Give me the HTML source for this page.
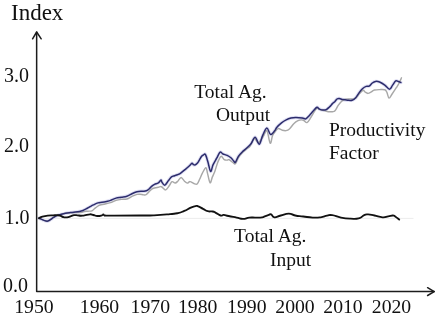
<!DOCTYPE html>
<html><head><meta charset="utf-8"><style>
html,body{margin:0;padding:0;background:#fff;}
svg{display:block;}
text{font-family:"Liberation Serif",serif;fill:#111;}
svg{will-change:transform;}
</style></head><body>
<svg width="438" height="317" viewBox="0 0 438 317">
<rect width="438" height="317" fill="#fff"/>
<line x1="36.5" y1="218.4" x2="413.5" y2="218.4" stroke="#ececec" stroke-width="1"/>
<g fill="none" stroke-linejoin="round" stroke-linecap="round">
<path d="M39.00,218.20 C40.37,218.70 44.85,221.28 47.20,221.20 C49.55,221.12 51.58,218.58 53.10,217.70 C54.62,216.82 55.32,216.37 56.30,215.90 C57.28,215.43 57.47,215.33 59.00,214.90 C60.53,214.47 63.63,213.68 65.50,213.30 C67.37,212.92 68.78,212.78 70.20,212.60 C71.62,212.42 72.45,212.38 74.00,212.20 C75.55,212.02 78.00,211.78 79.50,211.50 C81.00,211.22 81.83,210.97 83.00,210.50 C84.17,210.03 85.33,209.33 86.50,208.70 C87.67,208.07 88.85,207.33 90.00,206.70 C91.15,206.07 92.07,205.53 93.40,204.90 C94.73,204.27 96.57,203.33 98.00,202.90 C99.43,202.47 100.58,202.55 102.00,202.30 C103.42,202.05 105.08,201.72 106.50,201.40 C107.92,201.08 108.92,200.95 110.50,200.40 C112.08,199.85 114.18,198.63 116.00,198.10 C117.82,197.57 119.58,197.52 121.40,197.20 C123.22,196.88 125.07,196.82 126.90,196.20 C128.73,195.58 130.72,194.25 132.40,193.50 C134.08,192.75 135.48,192.08 137.00,191.70 C138.52,191.32 140.38,191.27 141.50,191.20 C142.62,191.13 142.88,191.37 143.70,191.30 C144.52,191.23 145.50,191.18 146.40,190.80 C147.30,190.42 148.18,189.77 149.10,189.00 C150.02,188.23 150.98,186.97 151.90,186.20 C152.82,185.43 153.53,184.95 154.60,184.40 C155.67,183.85 157.23,183.62 158.30,182.90 C159.37,182.18 160.40,180.23 161.00,180.10 C161.60,179.97 161.28,181.23 161.90,182.10 C162.52,182.97 163.63,185.52 164.70,185.30 C165.77,185.08 167.17,182.22 168.30,180.80 C169.43,179.38 170.43,177.65 171.50,176.80 C172.57,175.95 173.55,176.10 174.70,175.70 C175.85,175.30 177.40,174.83 178.40,174.40 C179.40,173.97 179.53,173.95 180.70,173.10 C181.87,172.25 183.98,170.48 185.40,169.30 C186.82,168.12 188.10,167.02 189.20,166.00 C190.30,164.98 191.30,163.43 192.00,163.20 C192.70,162.97 192.85,164.33 193.40,164.60 C193.95,164.87 194.58,165.12 195.30,164.80 C196.02,164.48 197.03,163.48 197.70,162.70 C198.37,161.92 198.65,161.17 199.30,160.10 C199.95,159.03 200.90,157.17 201.60,156.30 C202.30,155.43 202.87,155.20 203.50,154.90 C204.13,154.60 204.68,153.40 205.40,154.50 C206.12,155.60 206.93,158.68 207.80,161.50 C208.67,164.32 209.73,170.83 210.60,171.40 C211.47,171.97 211.98,167.10 213.00,164.90 C214.02,162.70 215.52,160.33 216.70,158.20 C217.88,156.07 219.07,152.80 220.10,152.10 C221.13,151.40 221.72,153.45 222.90,154.00 C224.08,154.55 225.87,154.77 227.20,155.40 C228.53,156.03 229.80,156.85 230.90,157.80 C232.00,158.75 233.05,160.35 233.80,161.10 C234.55,161.85 234.63,163.10 235.40,162.30 C236.17,161.50 237.30,157.98 238.40,156.30 C239.50,154.62 240.60,153.58 242.00,152.20 C243.40,150.82 245.30,149.40 246.80,148.00 C248.30,146.60 249.62,145.58 251.00,143.80 C252.38,142.02 253.72,137.23 255.10,137.30 C256.48,137.37 258.03,144.52 259.30,144.20 C260.57,143.88 261.43,138.08 262.70,135.40 C263.97,132.72 265.60,128.27 266.90,128.10 C268.20,127.93 269.20,133.95 270.50,134.40 C271.80,134.85 273.67,131.97 274.70,130.80 C275.73,129.63 275.57,128.73 276.70,127.40 C277.83,126.07 279.92,124.07 281.50,122.80 C283.08,121.53 284.63,120.58 286.20,119.80 C287.77,119.02 289.32,118.48 290.90,118.10 C292.48,117.72 293.80,117.52 295.70,117.50 C297.60,117.48 300.60,117.78 302.30,118.00 C304.00,118.22 304.68,119.25 305.90,118.80 C307.12,118.35 308.38,116.58 309.60,115.30 C310.82,114.02 311.98,112.43 313.20,111.10 C314.42,109.77 315.85,107.63 316.90,107.30 C317.95,106.97 318.47,108.63 319.50,109.10 C320.53,109.57 321.97,110.02 323.10,110.10 C324.23,110.18 325.25,110.12 326.30,109.60 C327.35,109.08 328.37,108.00 329.40,107.00 C330.43,106.00 331.57,104.53 332.50,103.60 C333.43,102.67 334.25,102.17 335.00,101.40 C335.75,100.63 336.28,99.50 337.00,99.00 C337.72,98.50 338.33,98.30 339.30,98.40 C340.27,98.50 341.43,99.30 342.80,99.60 C344.17,99.90 345.93,100.10 347.50,100.20 C349.07,100.30 350.83,100.60 352.20,100.20 C353.57,99.80 354.53,99.07 355.70,97.80 C356.87,96.53 358.03,94.15 359.20,92.60 C360.37,91.05 361.53,89.53 362.70,88.50 C363.87,87.47 365.12,86.80 366.20,86.40 C367.28,86.00 368.18,86.67 369.20,86.10 C370.22,85.53 371.25,83.78 372.30,83.00 C373.35,82.22 374.28,81.57 375.50,81.40 C376.72,81.23 378.05,81.38 379.60,82.00 C381.15,82.62 383.15,83.88 384.80,85.10 C386.45,86.32 388.20,89.30 389.50,89.30 C390.80,89.30 391.57,86.50 392.60,85.10 C393.63,83.70 394.75,81.50 395.70,80.90 C396.65,80.30 397.43,81.23 398.30,81.50 C399.17,81.77 400.47,82.33 400.90,82.50" stroke="#e0e0f4" stroke-width="3.4"/>
<path d="M39.00,218.20 C40.37,218.70 44.85,221.28 47.20,221.20 C49.55,221.12 51.58,218.58 53.10,217.70 C54.62,216.82 55.32,216.37 56.30,215.90 C57.28,215.43 57.47,215.33 59.00,214.90 C60.53,214.47 63.63,213.67 65.50,213.30 C67.37,212.93 68.78,212.83 70.20,212.70 C71.62,212.57 72.22,212.52 74.00,212.50 C75.78,212.48 79.17,212.77 80.90,212.60 C82.63,212.43 83.23,211.73 84.40,211.50 C85.57,211.27 86.63,211.32 87.90,211.20 C89.17,211.08 90.85,211.27 92.00,210.80 C93.15,210.33 93.80,209.20 94.80,208.40 C95.80,207.60 97.12,206.57 98.00,206.00 C98.88,205.43 98.93,205.33 100.10,205.00 C101.27,204.67 103.27,204.40 105.00,204.00 C106.73,203.60 108.67,203.20 110.50,202.60 C112.33,202.00 114.18,200.93 116.00,200.40 C117.82,199.87 119.58,199.63 121.40,199.40 C123.22,199.17 125.07,199.53 126.90,199.00 C128.73,198.47 130.72,196.97 132.40,196.20 C134.08,195.43 135.73,194.73 137.00,194.40 C138.27,194.07 138.88,194.12 140.00,194.20 C141.12,194.28 142.63,194.85 143.70,194.90 C144.77,194.95 145.35,195.18 146.40,194.50 C147.45,193.82 148.93,191.80 150.00,190.80 C151.07,189.80 151.42,189.10 152.80,188.50 C154.18,187.90 156.85,187.50 158.30,187.20 C159.75,186.90 160.28,186.25 161.50,186.70 C162.72,187.15 164.32,190.05 165.60,189.90 C166.88,189.75 168.13,187.17 169.20,185.80 C170.27,184.43 171.00,182.17 172.00,181.70 C173.00,181.23 174.23,183.08 175.20,183.00 C176.17,182.92 176.82,182.13 177.80,181.20 C178.78,180.27 179.98,177.40 181.10,177.40 C182.22,177.40 183.47,180.25 184.50,181.20 C185.53,182.15 186.37,183.03 187.30,183.10 C188.23,183.17 189.00,181.53 190.10,181.60 C191.20,181.67 192.72,183.10 193.90,183.50 C195.08,183.90 196.25,184.70 197.20,184.00 C198.15,183.30 198.73,181.12 199.60,179.30 C200.47,177.48 201.35,175.03 202.40,173.10 C203.45,171.17 205.03,167.62 205.90,167.70 C206.77,167.78 206.90,171.08 207.60,173.60 C208.30,176.12 209.30,182.25 210.10,182.80 C210.90,183.35 211.62,178.78 212.40,176.90 C213.18,175.02 213.92,173.90 214.80,171.50 C215.68,169.10 216.67,165.03 217.70,162.50 C218.73,159.97 219.90,156.77 221.00,156.30 C222.10,155.83 223.27,159.07 224.30,159.70 C225.33,160.33 226.42,160.10 227.20,160.10 C227.98,160.10 228.07,159.30 229.00,159.70 C229.93,160.10 231.73,161.82 232.80,162.50 C233.87,163.18 234.47,164.63 235.40,163.80 C236.33,162.97 237.30,159.30 238.40,157.50 C239.50,155.70 240.60,154.48 242.00,153.00 C243.40,151.52 245.50,149.67 246.80,148.60 C248.10,147.53 248.57,148.27 249.80,146.60 C251.03,144.93 252.77,139.27 254.20,138.60 C255.63,137.93 256.90,142.95 258.40,142.60 C259.90,142.25 261.78,138.47 263.20,136.50 C264.62,134.53 265.73,129.67 266.90,130.80 C268.07,131.93 269.25,142.53 270.20,143.30 C271.15,144.07 271.72,137.45 272.60,135.40 C273.48,133.35 274.55,132.13 275.50,131.00 C276.45,129.87 277.17,128.73 278.30,128.60 C279.43,128.47 281.02,129.87 282.30,130.20 C283.58,130.53 284.82,130.80 286.00,130.60 C287.18,130.40 288.07,130.20 289.40,129.00 C290.73,127.80 292.57,124.78 294.00,123.40 C295.43,122.02 296.75,121.28 298.00,120.70 C299.25,120.12 300.52,119.93 301.50,119.90 C302.48,119.87 302.98,120.05 303.90,120.50 C304.82,120.95 305.88,123.03 307.00,122.60 C308.12,122.17 309.38,119.72 310.60,117.90 C311.82,116.08 313.25,113.32 314.30,111.70 C315.35,110.08 315.95,108.55 316.90,108.20 C317.85,107.85 318.78,109.20 320.00,109.60 C321.22,110.00 322.82,110.25 324.20,110.60 C325.58,110.95 326.92,111.52 328.30,111.70 C329.68,111.88 331.38,111.85 332.50,111.70 C333.62,111.55 334.05,111.85 335.00,110.80 C335.95,109.75 337.08,106.98 338.20,105.40 C339.32,103.82 340.53,102.33 341.70,101.30 C342.87,100.27 343.85,99.60 345.20,99.20 C346.55,98.80 348.45,98.93 349.80,98.90 C351.15,98.87 352.18,99.23 353.30,99.00 C354.42,98.77 355.47,98.42 356.50,97.50 C357.53,96.58 358.38,94.72 359.50,93.50 C360.62,92.28 362.28,90.45 363.20,90.20 C364.12,89.95 364.18,91.47 365.00,92.00 C365.82,92.53 367.05,93.42 368.10,93.40 C369.15,93.38 370.25,92.47 371.30,91.90 C372.35,91.33 373.02,90.38 374.40,90.00 C375.78,89.62 377.87,89.63 379.60,89.60 C381.33,89.57 383.58,89.33 384.80,89.80 C386.02,90.27 386.20,91.02 386.90,92.40 C387.60,93.78 388.13,97.83 389.00,98.10 C389.87,98.37 390.88,95.73 392.10,94.00 C393.32,92.27 395.17,89.45 396.30,87.70 C397.43,85.95 398.03,85.15 398.90,83.50 C399.77,81.85 401.07,78.75 401.50,77.80" stroke="#a8a8a8" stroke-width="1.45"/>
<path d="M39.00,218.20 C40.37,218.70 44.85,221.28 47.20,221.20 C49.55,221.12 51.58,218.58 53.10,217.70 C54.62,216.82 55.32,216.37 56.30,215.90 C57.28,215.43 57.47,215.33 59.00,214.90 C60.53,214.47 63.63,213.68 65.50,213.30 C67.37,212.92 68.78,212.78 70.20,212.60 C71.62,212.42 72.45,212.38 74.00,212.20 C75.55,212.02 78.00,211.78 79.50,211.50 C81.00,211.22 81.83,210.97 83.00,210.50 C84.17,210.03 85.33,209.33 86.50,208.70 C87.67,208.07 88.85,207.33 90.00,206.70 C91.15,206.07 92.07,205.53 93.40,204.90 C94.73,204.27 96.57,203.33 98.00,202.90 C99.43,202.47 100.58,202.55 102.00,202.30 C103.42,202.05 105.08,201.72 106.50,201.40 C107.92,201.08 108.92,200.95 110.50,200.40 C112.08,199.85 114.18,198.63 116.00,198.10 C117.82,197.57 119.58,197.52 121.40,197.20 C123.22,196.88 125.07,196.82 126.90,196.20 C128.73,195.58 130.72,194.25 132.40,193.50 C134.08,192.75 135.48,192.08 137.00,191.70 C138.52,191.32 140.38,191.27 141.50,191.20 C142.62,191.13 142.88,191.37 143.70,191.30 C144.52,191.23 145.50,191.18 146.40,190.80 C147.30,190.42 148.18,189.77 149.10,189.00 C150.02,188.23 150.98,186.97 151.90,186.20 C152.82,185.43 153.53,184.95 154.60,184.40 C155.67,183.85 157.23,183.62 158.30,182.90 C159.37,182.18 160.40,180.23 161.00,180.10 C161.60,179.97 161.28,181.23 161.90,182.10 C162.52,182.97 163.63,185.52 164.70,185.30 C165.77,185.08 167.17,182.22 168.30,180.80 C169.43,179.38 170.43,177.65 171.50,176.80 C172.57,175.95 173.55,176.10 174.70,175.70 C175.85,175.30 177.40,174.83 178.40,174.40 C179.40,173.97 179.53,173.95 180.70,173.10 C181.87,172.25 183.98,170.48 185.40,169.30 C186.82,168.12 188.10,167.02 189.20,166.00 C190.30,164.98 191.30,163.43 192.00,163.20 C192.70,162.97 192.85,164.33 193.40,164.60 C193.95,164.87 194.58,165.12 195.30,164.80 C196.02,164.48 197.03,163.48 197.70,162.70 C198.37,161.92 198.65,161.17 199.30,160.10 C199.95,159.03 200.90,157.17 201.60,156.30 C202.30,155.43 202.87,155.20 203.50,154.90 C204.13,154.60 204.68,153.40 205.40,154.50 C206.12,155.60 206.93,158.68 207.80,161.50 C208.67,164.32 209.73,170.83 210.60,171.40 C211.47,171.97 211.98,167.10 213.00,164.90 C214.02,162.70 215.52,160.33 216.70,158.20 C217.88,156.07 219.07,152.80 220.10,152.10 C221.13,151.40 221.72,153.45 222.90,154.00 C224.08,154.55 225.87,154.77 227.20,155.40 C228.53,156.03 229.80,156.85 230.90,157.80 C232.00,158.75 233.05,160.35 233.80,161.10 C234.55,161.85 234.63,163.10 235.40,162.30 C236.17,161.50 237.30,157.98 238.40,156.30 C239.50,154.62 240.60,153.58 242.00,152.20 C243.40,150.82 245.30,149.40 246.80,148.00 C248.30,146.60 249.62,145.58 251.00,143.80 C252.38,142.02 253.72,137.23 255.10,137.30 C256.48,137.37 258.03,144.52 259.30,144.20 C260.57,143.88 261.43,138.08 262.70,135.40 C263.97,132.72 265.60,128.27 266.90,128.10 C268.20,127.93 269.20,133.95 270.50,134.40 C271.80,134.85 273.67,131.97 274.70,130.80 C275.73,129.63 275.57,128.73 276.70,127.40 C277.83,126.07 279.92,124.07 281.50,122.80 C283.08,121.53 284.63,120.58 286.20,119.80 C287.77,119.02 289.32,118.48 290.90,118.10 C292.48,117.72 293.80,117.52 295.70,117.50 C297.60,117.48 300.60,117.78 302.30,118.00 C304.00,118.22 304.68,119.25 305.90,118.80 C307.12,118.35 308.38,116.58 309.60,115.30 C310.82,114.02 311.98,112.43 313.20,111.10 C314.42,109.77 315.85,107.63 316.90,107.30 C317.95,106.97 318.47,108.63 319.50,109.10 C320.53,109.57 321.97,110.02 323.10,110.10 C324.23,110.18 325.25,110.12 326.30,109.60 C327.35,109.08 328.37,108.00 329.40,107.00 C330.43,106.00 331.57,104.53 332.50,103.60 C333.43,102.67 334.25,102.17 335.00,101.40 C335.75,100.63 336.28,99.50 337.00,99.00 C337.72,98.50 338.33,98.30 339.30,98.40 C340.27,98.50 341.43,99.30 342.80,99.60 C344.17,99.90 345.93,100.10 347.50,100.20 C349.07,100.30 350.83,100.60 352.20,100.20 C353.57,99.80 354.53,99.07 355.70,97.80 C356.87,96.53 358.03,94.15 359.20,92.60 C360.37,91.05 361.53,89.53 362.70,88.50 C363.87,87.47 365.12,86.80 366.20,86.40 C367.28,86.00 368.18,86.67 369.20,86.10 C370.22,85.53 371.25,83.78 372.30,83.00 C373.35,82.22 374.28,81.57 375.50,81.40 C376.72,81.23 378.05,81.38 379.60,82.00 C381.15,82.62 383.15,83.88 384.80,85.10 C386.45,86.32 388.20,89.30 389.50,89.30 C390.80,89.30 391.57,86.50 392.60,85.10 C393.63,83.70 394.75,81.50 395.70,80.90 C396.65,80.30 397.43,81.23 398.30,81.50 C399.17,81.77 400.47,82.33 400.90,82.50" stroke="#2c2c6c" stroke-width="1.5"/>
<path d="M39.00,218.20 C39.91,217.80 40.08,217.39 42.40,216.70 C44.72,216.01 44.85,215.97 47.70,215.60 C50.55,215.23 50.62,215.41 53.10,215.30 C55.58,215.19 55.16,215.12 57.00,215.20 C58.84,215.28 58.37,215.12 60.00,215.60 C61.63,216.08 61.63,216.52 63.10,217.00 C64.57,217.48 64.11,217.37 65.50,217.40 C66.89,217.43 66.81,217.45 68.30,217.10 C69.79,216.75 69.58,216.61 71.10,216.10 C72.62,215.59 72.29,215.41 74.00,215.20 C75.71,214.99 75.66,215.17 77.50,215.30 C79.34,215.43 79.06,215.70 80.90,215.70 C82.74,215.70 81.97,215.67 84.40,215.30 C86.83,214.93 87.60,214.38 90.00,214.30 C92.40,214.22 91.43,214.55 93.40,215.00 C95.37,215.45 95.11,215.92 97.40,216.00 C99.69,216.08 100.43,215.70 102.00,215.30 C103.57,214.90 102.58,214.50 103.30,214.50 C104.02,214.50 102.91,215.01 104.70,215.30 C106.49,215.59 100.59,215.55 110.00,215.60 C119.41,215.65 128.27,215.58 140.00,215.50 C151.73,215.42 146.00,215.67 154.00,215.30 C162.00,214.93 163.60,214.69 170.00,214.10 C176.40,213.51 174.19,213.95 178.00,213.10 C181.81,212.25 180.91,212.34 184.30,210.90 C187.69,209.46 187.71,208.98 190.70,207.70 C193.69,206.42 193.50,206.45 195.50,206.10 C197.50,205.75 196.20,205.68 198.20,206.40 C200.20,207.12 200.44,207.52 203.00,208.80 C205.56,210.08 205.24,210.48 207.80,211.20 C210.36,211.92 210.47,211.07 212.60,211.50 C214.73,211.93 213.67,211.73 215.80,212.80 C217.93,213.87 218.47,214.94 220.60,215.50 C222.73,216.06 221.67,214.77 223.80,214.90 C225.93,215.03 225.19,215.28 228.60,216.00 C232.01,216.72 232.76,216.83 236.60,217.60 C240.44,218.37 239.61,218.90 243.00,218.90 C246.39,218.90 245.91,217.95 249.30,217.60 C252.69,217.25 252.29,217.68 255.70,217.60 C259.11,217.52 259.67,217.65 262.10,217.30 C264.53,216.95 263.01,216.94 264.80,216.30 C266.59,215.66 267.09,215.41 268.80,214.90 C270.51,214.39 269.71,213.76 271.20,214.40 C272.69,215.04 271.84,217.01 274.40,217.30 C276.96,217.59 276.96,216.49 280.80,215.50 C284.64,214.51 284.96,213.60 288.80,213.60 C292.64,213.60 291.36,214.73 295.20,215.50 C299.04,216.27 298.53,215.94 303.20,216.50 C307.87,217.06 308.03,217.39 312.70,217.60 C317.37,217.81 316.86,217.81 320.70,217.30 C324.54,216.79 324.03,216.26 327.10,215.70 C330.17,215.14 328.49,214.69 332.20,215.20 C335.91,215.71 336.09,216.67 341.00,217.60 C345.91,218.53 345.91,218.49 350.60,218.70 C355.29,218.91 354.97,219.33 358.60,218.40 C362.23,217.47 361.64,216.27 364.20,215.20 C366.76,214.13 365.45,214.32 368.20,214.40 C370.95,214.48 370.69,214.73 374.50,215.50 C378.31,216.27 378.85,217.06 382.50,217.30 C386.15,217.54 385.45,216.88 388.20,216.40 C390.95,215.92 390.85,215.42 392.80,215.50 C394.75,215.58 393.79,215.61 395.50,216.70 C397.21,217.79 398.21,218.83 399.20,219.60" stroke="#111" stroke-width="1.85"/>
</g>
<g fill="none" stroke="#1c1c1c" stroke-width="1.5" stroke-linecap="round" stroke-linejoin="round">
<polyline points="36.65,32.2 36.65,291.6 434.2,291.6"/>
<polyline points="32.6,38.8 36.65,32 41.2,38.8"/>
<polyline points="427.6,287.7 434.2,291.6 427.6,295.5"/>
</g>
<text x="11" y="20.1" font-size="23">Index</text>
<g font-size="20" text-anchor="end">
<text x="29" y="81.7">3.0</text>
<text x="29" y="152.4">2.0</text>
<text x="29.6" y="224.3">1.0</text>
<text x="28" y="292">0.0</text>
</g>
<g font-size="19.7" text-anchor="middle">
<text x="33.9" y="312.9">1950</text>
<text x="99.5" y="312.9">1960</text>
<text x="150.3" y="312.9">1970</text>
<text x="197.7" y="312.9">1980</text>
<text x="246.8" y="312.9">1990</text>
<text x="295" y="312.9">2000</text>
<text x="343" y="312.9">2010</text>
<text x="391.5" y="312.9">2020</text>
</g>
<g font-size="19.5">
<text x="194.3" y="97.8">Total Ag.</text>
<text x="216" y="120.7">Output</text>
<text x="329" y="135.6">Productivity</text>
<text x="329" y="158.6">Factor</text>
<text x="234.1" y="242.3">Total Ag.</text>
<text x="270" y="266.1">Input</text>
</g>
</svg>
</body></html>
